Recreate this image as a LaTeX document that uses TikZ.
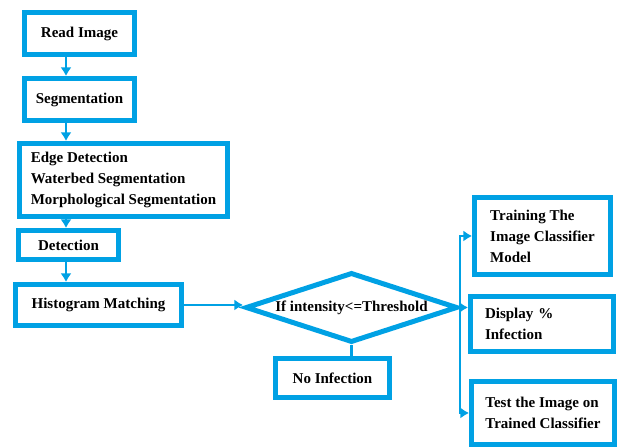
\documentclass[tikz,border=0pt]{standalone}
\usepackage{fontspec}
\setmainfont{Liberation Serif}
\usetikzlibrary{shapes.geometric,arrows.meta}
\definecolor{flowblue}{RGB}{0,161,228}

\begin{document}
\begin{tikzpicture}[x=0.75pt,y=-0.75pt,>={Latex[length=6.5pt,width=8.5pt]},
        blk/.style={draw=flowblue,line width=3.75pt,align=left,inner sep=3pt,
            font=\bfseries\fontsize{11.25}{15.75}\selectfont},
        link/.style={draw=flowblue,line width=2.2pt}]
        \useasboundingbox (0,0) rectangle (622,448);
        \coordinate (spine) at (66,0);
        % left column
        \node[blk,minimum width=82.5pt,minimum height=31.5pt] (read) at (79.5,33.5) {Read Image};
        \node[blk,minimum width=82.5pt,minimum height=31.5pt] (seg) at (79.5,99.5) {Segmentation};
        \node[blk,minimum width=156pt,minimum height=54.75pt] (edge) at (123.5,180) {Edge Detection\\Waterbed Segmentation\\Morphological Segmentation};
        \node[blk,minimum width=75pt,minimum height=21.75pt] (det) at (68.5,245) {Detection};
        \node[blk,minimum width=124.5pt,minimum height=30.75pt] (hist) at (98.5,305) {Histogram Matching};
        \draw[link,->] (read.south -| spine)--(seg.north -| spine);
        \draw[link,->] (seg.south -| spine)--(edge.north -| spine);
        \draw[link,->] (edge.south -| spine)--(det.north -| spine);
        \draw[link,->] (det.south -| spine)--(hist.north -| spine);
        % decision
        \node[blk,shape=diamond,aspect=3,inner sep=0pt,minimum width=159pt,minimum height=52.5pt] (cond) at (351.5,307.5) {If intensity<=Threshold};
        \node[blk,minimum width=85.5pt,minimum height=29.25pt] (noinf) at (332.5,378) {No Infection};
        \draw[link,->] (hist.east)--(hist.east -| cond.west);
        \draw[link] (cond.south)--(cond.south |- noinf.north);
        % right column
        \node[blk,minimum width=102pt,minimum height=57.75pt] (train) at (542.5,236) {Training The\\Image Classifier\\Model};
        \node[blk,text width=85.5pt,minimum width=107.25pt,minimum height=41.25pt] (disp) at (542,324) {Display \%\\Infection};
        \node[blk,minimum width=107.25pt,minimum height=47.25pt] (test) at (543,413) {Test the Image on\\Trained Classifier};
        \draw[link,->] (cond.east)--(cond.east -| disp.west);
        \draw[link,->] (cond.east) |- (train.west);
        \draw[link,->] (cond.east) |- (test.west);
    \end{tikzpicture}
\end{document}
